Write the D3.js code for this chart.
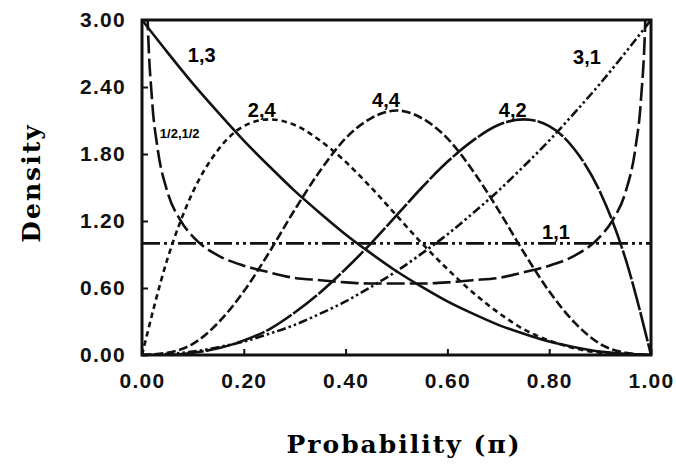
<!doctype html>
<html>
<head>
<meta charset="utf-8">
<title>Beta densities</title>
<script src="https://cdn.jsdelivr.net/npm/d3@7"></script>
<style>
  body { margin: 0; background: #fff; }
  .tick-label { font-family: "Liberation Sans", Arial, sans-serif; font-weight: bold; font-size: 21px; letter-spacing: 1.3px; }
  .title { font-family: "DejaVu Serif", "Liberation Serif", serif; font-weight: bold; font-size: 25px; letter-spacing: 2px; }
  .curve-label { font-family: "Liberation Sans", Arial, sans-serif; font-weight: bold; font-size: 20px; }
</style>
</head>
<body>
<svg width="676" height="466"></svg>
<script>
// x positions (probability) shared by most curves
var probs = [0, 0.05, 0.10, 0.15, 0.20, 0.25, 0.30, 0.35, 0.40, 0.45, 0.50,
             0.55, 0.60, 0.65, 0.70, 0.75, 0.80, 0.85, 0.90, 0.95, 1.00];

var beta13 = [3.00, 2.71, 2.43, 2.17, 1.92, 1.69, 1.47, 1.27, 1.08, 0.91, 0.75,
              0.61, 0.48, 0.37, 0.27, 0.19, 0.12, 0.07, 0.03, 0.01, 0.00];
var beta31 = [0.00, 0.01, 0.03, 0.07, 0.12, 0.19, 0.27, 0.37, 0.48, 0.61, 0.75,
              0.91, 1.08, 1.27, 1.47, 1.69, 1.92, 2.17, 2.43, 2.71, 3.00];
var beta24 = [0.00, 0.86, 1.46, 1.84, 2.05, 2.11, 2.06, 1.92, 1.73, 1.50, 1.25,
              1.00, 0.77, 0.56, 0.38, 0.23, 0.13, 0.06, 0.02, 0.00, 0.00];
var beta42 = [0.00, 0.00, 0.02, 0.06, 0.13, 0.23, 0.38, 0.56, 0.77, 1.00, 1.25,
              1.50, 1.73, 1.92, 2.06, 2.11, 2.05, 1.84, 1.46, 0.86, 0.00];
var beta44 = [0.00, 0.02, 0.10, 0.29, 0.57, 0.92, 1.30, 1.65, 1.94, 2.12, 2.19,
              2.12, 1.94, 1.65, 1.30, 0.92, 0.57, 0.29, 0.10, 0.02, 0.00];
var beta11 = [1.00, 1.00, 1.00, 1.00, 1.00, 1.00, 1.00, 1.00, 1.00, 1.00, 1.00,
              1.00, 1.00, 1.00, 1.00, 1.00, 1.00, 1.00, 1.00, 1.00, 1.00];

// the U shaped curve needs extra points near the edges
var probsHalf = [0.005, 0.01, 0.02, 0.03, 0.05, 0.075, 0.10, 0.15, 0.20, 0.25, 0.30, 0.35, 0.40, 0.45, 0.50,
                 0.55, 0.60, 0.65, 0.70, 0.75, 0.80, 0.85, 0.90, 0.925, 0.95, 0.97, 0.98, 0.99, 0.995];
var betaHalf = [4.51, 3.20, 2.27, 1.87, 1.46, 1.21, 1.06, 0.89, 0.80, 0.74, 0.69, 0.67, 0.65, 0.64, 0.64,
                0.64, 0.65, 0.67, 0.69, 0.74, 0.80, 0.89, 1.06, 1.21, 1.46, 1.87, 2.27, 3.20, 4.51];

var xTicks = [0, 0.2, 0.4, 0.6, 0.8, 1.0];
var yTicks = [0, 0.6, 1.2, 1.8, 2.4, 3.0];

var svg = d3.select("svg");
var plotLeft = 142, plotRight = 651, plotTop = 20, plotBottom = 355;

var x = d3.scaleLinear().domain([0, 1]).range([plotLeft, plotRight]);
var y = d3.scaleLinear().domain([0, 3]).range([plotBottom, plotTop]);

svg.append("clipPath").attr("id", "plot")
  .append("rect")
  .attr("x", plotLeft).attr("y", plotTop)
  .attr("width", plotRight - plotLeft).attr("height", plotBottom - plotTop);

var line = d3.line()
  .x(function(d) { return x(d[0]); })
  .y(function(d) { return y(d[1]); })
  .curve(d3.curveMonotoneX);

function pairs(xs, ys) {
  return xs.map(function(v, i) { return [v, ys[i]]; });
}

var curves = [
  { data: pairs(probs, beta11), dash: "18,4,3,4,3,4" },
  { data: pairs(probs, beta31), dash: "9,3,2.5,3,2.5,3" },
  { data: pairs(probsHalf, betaHalf), dash: "18,5" },
  { data: pairs(probs, beta24), dash: "5.5,4" },
  { data: pairs(probs, beta44), dash: "9,3.5" },
  { data: pairs(probs, beta42), dash: "30,2" },
  { data: pairs(probs, beta13), dash: null }
];

var g = svg.append("g").attr("clip-path", "url(#plot)");
curves.forEach(function(c) {
  g.append("path")
    .attr("d", line(c.data))
    .attr("fill", "none")
    .attr("stroke", "#111")
    .attr("stroke-width", 2.6)
    .attr("stroke-dasharray", c.dash);
});

// frame
svg.append("rect")
  .attr("x", plotLeft).attr("y", plotTop)
  .attr("width", plotRight - plotLeft).attr("height", plotBottom - plotTop)
  .attr("fill", "none").attr("stroke", "#111").attr("stroke-width", 3);

// inner ticks
var xAxis = d3.axisBottom(x).tickValues(xTicks).tickSizeInner(-6).tickSizeOuter(0)
  .tickFormat(d3.format(".2f")).tickPadding(18);
var gx = svg.append("g").attr("transform", "translate(0," + plotBottom + ")").call(xAxis);
gx.select(".domain").remove();
gx.attr("font-size", null).attr("font-family", null);
gx.selectAll("line").attr("stroke", "#111").attr("stroke-width", 2);
gx.selectAll("text").attr("class", "tick-label").attr("fill", "#111");

var yAxis = d3.axisLeft(y).tickValues(yTicks).tickSizeInner(-6).tickSizeOuter(0)
  .tickFormat(d3.format(".2f")).tickPadding(16);
var gy = svg.append("g").attr("transform", "translate(" + plotLeft + ",0)").call(yAxis);
gy.select(".domain").remove();
gy.attr("font-size", null).attr("font-family", null);
gy.selectAll("line").attr("stroke", "#111").attr("stroke-width", 2);
gy.selectAll("text").attr("class", "tick-label").attr("fill", "#111");

// axis titles
svg.append("text").attr("class", "title")
  .attr("x", 404).attr("y", 453)
  .attr("text-anchor", "middle")
  .text("Probability (π)");

svg.append("text").attr("class", "title")
  .attr("transform", "translate(40,183) rotate(-90)")
  .attr("text-anchor", "middle")
  .text("Density");

// curve labels
var labels = [
  { text: "1,3", px: 0.090, py: 2.62, size: 20 },
  { text: "2,4", px: 0.208, py: 2.13, size: 20 },
  { text: "4,4", px: 0.452, py: 2.22, size: 20 },
  { text: "4,2", px: 0.701, py: 2.13, size: 20 },
  { text: "3,1", px: 0.847, py: 2.61, size: 20 },
  { text: "1/2,1/2", px: 0.035, py: 1.94, size: 13 },
  { text: "1,1", px: 0.786, py: 1.04, size: 20 }
];
svg.selectAll(".curve-label").data(labels).enter().append("text")
  .attr("class", "curve-label")
  .attr("x", function(d) { return x(d.px); })
  .attr("y", function(d) { return y(d.py); })
  .style("font-size", function(d) { return d.size + "px"; })
  .text(function(d) { return d.text; });
</script>
</body>
</html>
